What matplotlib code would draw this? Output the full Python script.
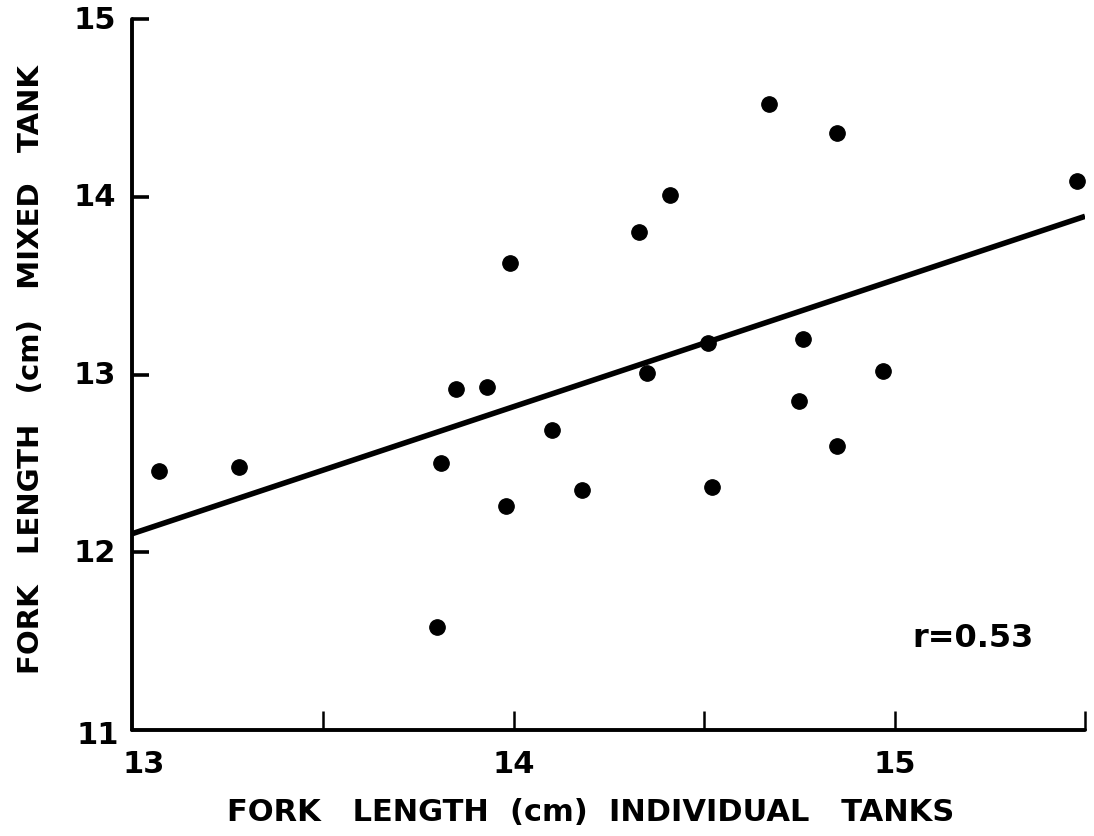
import matplotlib
matplotlib.use("Agg")
import matplotlib.pyplot as plt

# Fork length (cm) of each fish: individual tanks vs mixed tank
individual_cm = [13.07, 13.28, 13.81, 13.80, 13.85, 13.93, 14.10, 13.98, 14.18,
                 14.35, 14.51, 14.52, 13.99, 14.33, 14.41, 14.67, 14.85, 15.48,
                 14.76, 14.97, 14.75, 14.85]
mixed_cm = [12.46, 12.48, 12.50, 11.58, 12.92, 12.93, 12.69, 12.26, 12.35,
            13.01, 13.18, 12.37, 13.63, 13.80, 14.01, 14.52, 14.36, 14.09,
            13.20, 13.02, 12.85, 12.60]

# Regression line end points
fit_x = [13.0, 15.5]
fit_y = [12.105, 13.89]

x_ticks = [13.5, 14.0, 14.5, 15.0, 15.5]
x_labels = ["13", "14", "15"]
x_label_pos = [13.0, 14.0, 15.0]
y_ticks = [12, 13, 14, 15]
y_labels = ["11", "12", "13", "14", "15"]
y_label_pos = [11, 12, 13, 14, 15]
r_text = "r=0.53"

plt.rcParams["font.family"] = ["DejaVu Sans"]
plt.rcParams["font.weight"] = "bold"

fig = plt.figure(figsize=(10.94, 8.37), dpi=100)
ax = fig.add_axes([0.1211, 0.1266, 0.8707, 0.8495])
ax.set_xlim(13, 15.5)
ax.set_ylim(11, 15)

for side in ("top", "right"):
    ax.spines[side].set_visible(False)
for side in ("left", "bottom"):
    ax.spines[side].set_linewidth(2.8)
    ax.spines[side].set_capstyle("round")

ax.plot(fit_x, fit_y, color="black", lw=4.0, solid_capstyle="butt", zorder=3)
ax.scatter(individual_cm, mixed_cm, s=125, color="black", zorder=4,
           edgecolors="black", linewidths=0.8)

ax.set_xticks(x_ticks)
ax.set_xticklabels([])
ax.set_yticks(y_ticks)
ax.set_yticklabels([])
ax.tick_params(axis="x", direction="in", length=14, width=1.8)
ax.tick_params(axis="y", direction="in", length=12, width=2.6)

for v, s in zip(x_label_pos, x_labels):
    dx = 8 if v == 13.0 else 0
    ax.annotate(s, xy=(v, 11), xycoords="data", xytext=(dx, -14),
                textcoords="offset points", ha="center", va="top",
                fontsize=22, fontweight="bold")
for v, s in zip(y_label_pos, y_labels):
    off = (-10, -3) if v == 11 else (-12, 0)
    ax.annotate(s, xy=(13, v), xycoords="data", xytext=off,
                textcoords="offset points", ha="right", va="center",
                fontsize=22, fontweight="bold")

fig.text(0.54, 0.029, "FORK   LENGTH  (cm)  INDIVIDUAL   TANKS",
         ha="center", va="center", fontsize=22, fontweight="bold")
fig.text(0.028, 0.558, "FORK   LENGTH   (cm)   MIXED   TANK", rotation=90,
         ha="center", va="center", fontsize=21, fontweight="bold")

ax.text(15.365, 11.52, r_text, ha="right", va="center", fontsize=23,
        fontweight="bold")

fig.savefig("out.png", dpi=100)
